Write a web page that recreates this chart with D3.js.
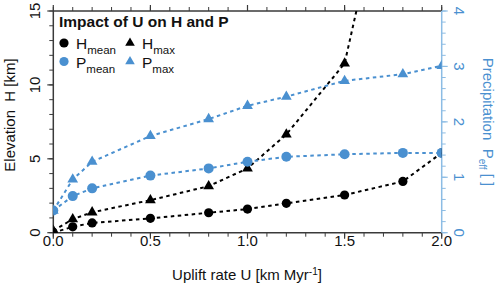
<!DOCTYPE html>
<html><head><meta charset="utf-8">
<script src="https://cdn.jsdelivr.net/npm/d3@7"></script>
<style>body{margin:0;background:#fff}svg{display:block;font-family:"Liberation Sans",Arial,sans-serif}</style>
</head><body><svg id="c" width="500" height="289"></svg>
<script>
const uplift = [0, 0.1, 0.2, 0.5, 0.8, 1.0, 1.2, 1.5, 1.8, 2.0];
const hMean = [0, 0.4, 0.66, 0.97, 1.35, 1.6, 1.99, 2.55, 3.47, 5.4];
const hMax  = [0.13, 0.92, 1.38, 2.2, 3.15, 4.35, 6.65, 11.45, 29, 45];
const pMean = [0.40, 0.66, 0.80, 1.03, 1.16, 1.28, 1.37, 1.415, 1.44, 1.44];
const pMax  = [0.40, 0.96, 1.28, 1.745, 2.05, 2.29, 2.455, 2.74, 2.86, 3.01];
const xTicks = [0, 0.5, 1.0, 1.5, 2.0];
const hTicks = [0, 5, 10, 15];
const pTicks = [0, 1, 2, 3, 4];

const BLUE = "#4a90d0", LBLUE = "#8cbce4", AX = "#3a3a3a";
const FS = 15;
const svg = d3.select("#c");
const L = 53.3, R = 441.7, T = 11, B = 232.7;
const x = d3.scaleLinear().domain([0, 2]).range([L, R]);
const yH = d3.scaleLinear().domain([0, 15]).range([B, T]);
const yP = d3.scaleLinear().domain([0, 4]).range([B, T]);

svg.append("defs").append("clipPath").attr("id","clip").append("rect")
  .attr("x", L).attr("y", T).attr("width", R-L).attr("height", B-T);

function axisTicks(g, orient, scale, major, minor, color, majLen, minLen){
  const draw = (v, len, w) => {
    const p = scale(v);
    let ln;
    if (orient==="bottom") ln=g.append("line").attr("x1",p).attr("x2",p).attr("y1",B).attr("y2",B+len);
    if (orient==="top") ln=g.append("line").attr("x1",p).attr("x2",p).attr("y1",T).attr("y2",T-len);
    if (orient==="left") ln=g.append("line").attr("y1",p).attr("y2",p).attr("x1",L).attr("x2",L-len);
    if (orient==="right") ln=g.append("line").attr("y1",p).attr("y2",p).attr("x1",R).attr("x2",R+len);
    ln.attr("stroke",color).attr("stroke-width",w);
  };
  minor.forEach(v=>draw(v, minLen, 1));
  major.forEach(v=>draw(v, majLen, 1.2));
}
const xMinor = d3.range(0, 2.001, 0.1).map(v=>+v.toFixed(2));
const hMinor = d3.range(0, 15.01, 1);
const pMinor = d3.range(0, 4.001, 0.2).map(v=>+v.toFixed(2));
const ax = svg.append("g");
axisTicks(ax, "bottom", x, xTicks, xMinor, AX, 6, 4);
axisTicks(ax, "top", x, xTicks, xMinor, AX, 6, 4);
axisTicks(ax, "left", yH, hTicks, hMinor, AX, 6, 4);
axisTicks(ax, "right", yP, pTicks, pMinor, LBLUE, 6, 4);
ax.append("line").attr("x1",L).attr("x2",R).attr("y1",B).attr("y2",B).attr("stroke",AX).attr("stroke-width",1.5);
ax.append("line").attr("x1",L).attr("x2",R).attr("y1",T).attr("y2",T).attr("stroke",AX).attr("stroke-width",1.5);
ax.append("line").attr("x1",L).attr("x2",L).attr("y1",T).attr("y2",B).attr("stroke",AX).attr("stroke-width",1.5);
ax.append("line").attr("x1",R).attr("x2",R).attr("y1",T).attr("y2",B).attr("stroke",LBLUE).attr("stroke-width",1.5);

xTicks.forEach(v=>{
  svg.append("text").attr("x",x(v)).attr("y",B+13.5).attr("text-anchor","middle")
    .attr("font-size",FS).attr("fill","#111").text(v.toFixed(1));
});
hTicks.forEach(v=>{
  svg.append("text").attr("transform",`translate(${L-13},${yH(v)}) rotate(-90)`)
    .attr("text-anchor","middle").attr("font-size",FS).attr("fill","#111").text(v);
});
pTicks.forEach(v=>{
  svg.append("text").attr("transform",`translate(${R+12.5},${yP(v)}) rotate(90)`)
    .attr("text-anchor","middle").attr("font-size",FS).attr("fill",BLUE).text(v);
});

const xt = svg.append("text").attr("x",247).attr("y",280).attr("text-anchor","middle")
  .attr("font-size",FS).attr("fill","#111");
xt.append("tspan").text("Uplift rate U [km Myr");
xt.append("tspan").attr("font-size",10).attr("dy",-5).text("-1");
xt.append("tspan").attr("dy",5).text("]");
svg.append("text").attr("transform",`translate(15,115) rotate(-90)`).attr("text-anchor","middle")
  .attr("font-size",FS).attr("fill","#111").attr("xml:space","preserve").text("Elevation  H [km]");
const yt = svg.append("text").attr("transform",`translate(483,122) rotate(90)`).attr("text-anchor","middle")
  .attr("font-size",FS).attr("fill",BLUE).attr("xml:space","preserve");
yt.append("tspan").text("Precipitation  P");
yt.append("tspan").attr("font-size",10).attr("dy",4).text("eff");
yt.append("tspan").attr("dy",-4).text(" [ ]");

const plot = svg.append("g").attr("clip-path","url(#clip)");
const series = [
  {vals:hMean, y:yH, color:"#000", sym:"circ", r:4.6},
  {vals:hMax, y:yH, color:"#000", sym:"tri", r:4.2},
  {vals:pMean, y:yP, color:BLUE, sym:"circ", r:5},
  {vals:pMax, y:yP, color:BLUE, sym:"tri", r:4.2},
];
series.forEach(s=>{
  const line = d3.line().x((d,i)=>x(uplift[i])).y(d=>s.y(d));
  plot.append("path").attr("d",line(s.vals)).attr("fill","none").attr("stroke",s.color)
    .attr("stroke-width",2).attr("stroke-dasharray","3.5,3.5");
  s.vals.forEach((v,i)=>{
    const cx = x(uplift[i]), cy = s.y(v);
    if (s.sym==="circ") plot.append("circle").attr("cx",cx).attr("cy",cy).attr("r",s.r).attr("fill",s.color);
    else plot.append("path").attr("d",d3.symbol(d3.symbolTriangle, 50)()).attr("transform",`translate(${cx},${cy})`).attr("fill",s.color);
  });
});

svg.append("text").attr("x",59).attr("y",27).attr("font-size",15.5).attr("font-weight","bold").attr("fill","#111")
  .text("Impact of U on H and P");
const legend = [
  {lab:"H", sub:"mean", color:"#000", sym:"circ", x:64, y:43},
  {lab:"H", sub:"max", color:"#000", sym:"tri", x:130, y:43},
  {lab:"P", sub:"mean", color:BLUE, sym:"circ", x:64, y:61.5},
  {lab:"P", sub:"max", color:BLUE, sym:"tri", x:130, y:61.5},
];
legend.forEach(l=>{
  if (l.sym==="circ") svg.append("circle").attr("cx",l.x).attr("cy",l.y).attr("r",4.6).attr("fill",l.color);
  else svg.append("path").attr("d",d3.symbol(d3.symbolTriangle, 40)()).attr("transform",`translate(${l.x},${l.y})`).attr("fill",l.color);
  const t = svg.append("text").attr("x",l.x+12).attr("y",l.y+6).attr("font-size",15.5).attr("fill","#111");
  t.append("tspan").text(l.lab);
  t.append("tspan").attr("font-size",11.5).attr("dy",5).text(l.sub);
});
</script></body></html>
